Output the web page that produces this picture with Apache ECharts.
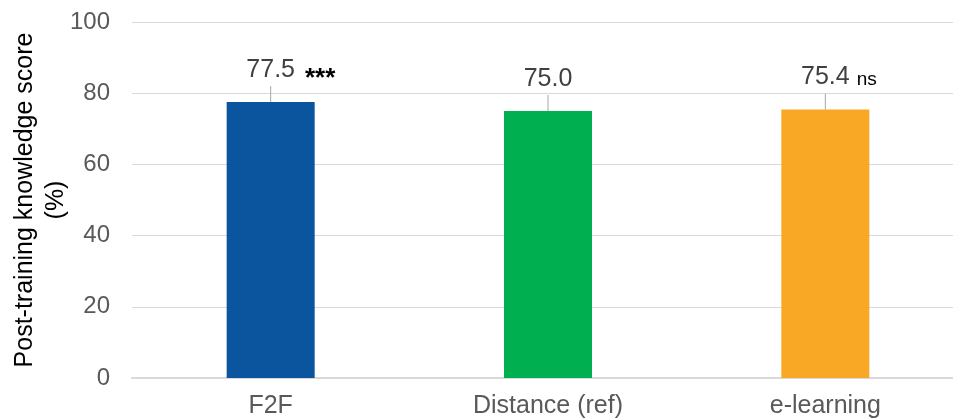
<!DOCTYPE html>
<html>
<head>
<meta charset="utf-8">
<script src="https://cdn.jsdelivr.net/npm/echarts@6/dist/echarts.min.js"></script>
<style>
  html, body { margin: 0; padding: 0; background: #fff; }
  #chart { width: 953px; height: 420px; }
</style>
</head>
<body>
<div id="chart"></div>
<script>
const categories = ['F2F', 'Distance (ref)', 'e-learning'];
const scores = [77.5, 75.0, 75.4];
const marks = ['***', '', 'ns'];
const barColors = ['#0B549E', '#00B050', '#F9A825'];
const yTicks = { min: 0, max: 100, interval: 20 };

const FONT = '"Liberation Sans", Arial, sans-serif';

// measure text so the significance mark sits right after the number
const measureCtx = document.createElement('canvas').getContext('2d');
function textWidth(str, size) {
  measureCtx.font = size + 'px ' + FONT;
  return measureCtx.measureText(str).width;
}

const chart = echarts.init(document.getElementById('chart'));

const option = {
  animation: false,
  textStyle: { fontFamily: FONT },
  grid: { left: 132, width: 832, top: 22, bottom: 42, containLabel: false, outerBoundsMode: 'none' },
  xAxis: {
    type: 'category',
    data: categories,
    axisTick: { show: false },
    axisLine: { lineStyle: { color: '#D9D9D9', width: 2 } },
    axisLabel: { color: '#595959', fontSize: 25, margin: 16, fontFamily: FONT }
  },
  yAxis: {
    type: 'value',
    min: yTicks.min,
    max: yTicks.max,
    interval: yTicks.interval,
    name: 'Post-training knowledge score\n(%)',
    nameLocation: 'middle',
    nameGap: 60,
    nameMoveOverlap: false,
    nameTextStyle: { color: '#000', fontSize: 25, lineHeight: 31, fontFamily: FONT },
    axisLine: { show: false },
    axisTick: { show: false },
    axisLabel: { color: '#595959', fontSize: 24, margin: 22, fontFamily: FONT },
    splitLine: { lineStyle: { color: '#D9D9D9', width: 1 } }
  },
  series: [
    {
      type: 'bar',
      barWidth: 88,
      data: scores.map((v, i) => ({ value: v, itemStyle: { color: barColors[i] } }))
    },
    {
      type: 'custom',
      data: scores.map((v, i) => [i, v]),
      encode: { x: 0, y: 1 },
      z: 5,
      renderItem: function (params, api) {
        const i = api.value(0);
        const pt = api.coord([i, api.value(1)]);
        const label = scores[i].toFixed(1);
        const half = textWidth(label, 25) / 2;
        const children = [
          {
            type: 'line',
            shape: { x1: pt[0], y1: pt[1], x2: pt[0], y2: pt[1] - 16 },
            style: { stroke: '#A6A6A6', lineWidth: 1 }
          },
          {
            type: 'text',
            style: {
              x: pt[0], y: pt[1] - 32, text: label,
              fill: '#404040', font: '25px ' + FONT,
              textAlign: 'center', textVerticalAlign: 'middle'
            }
          }
        ];
        const m = marks[i];
        if (m === '***') {
          children.push({
            type: 'text',
            style: {
              x: pt[0] + half + 10, y: pt[1] - 23, text: m,
              fill: '#000', font: 'bold 26px ' + FONT,
              textAlign: 'left', textVerticalAlign: 'middle'
            }
          });
        } else if (m) {
          children.push({
            type: 'text',
            style: {
              x: pt[0] + half + 7, y: pt[1] - 30, text: m,
              fill: '#000', font: '19px ' + FONT,
              textAlign: 'left', textVerticalAlign: 'middle'
            }
          });
        }
        return { type: 'group', children: children };
      }
    }
  ]
};

chart.setOption(option);
</script>
</body>
</html>
